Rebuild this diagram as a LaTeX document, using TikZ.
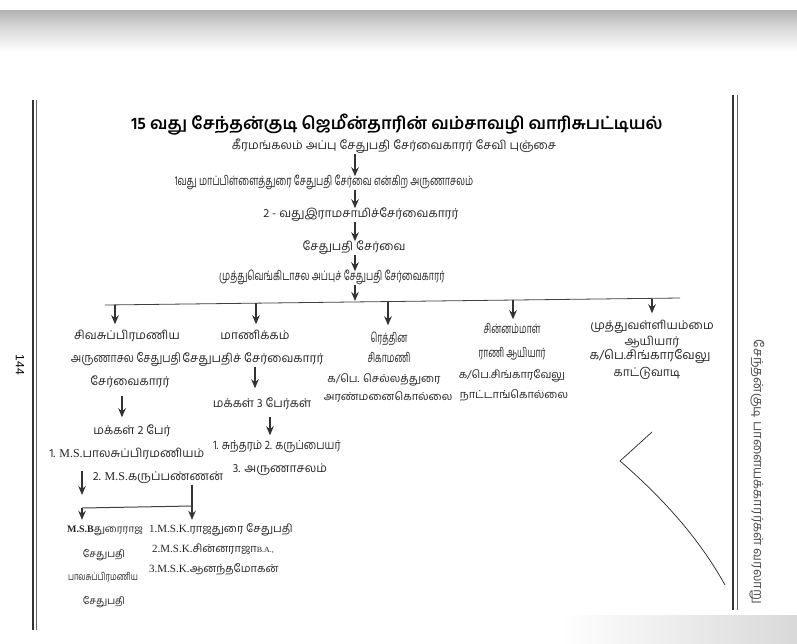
\documentclass[tikz,border=0pt]{standalone}
\usepackage{fontspec}
\newfontfamily\ta[Script=Tamil]{Hind Madurai}
\newfontfamily\tacA[Script=Tamil,FakeStretch=0.70]{Hind Madurai}
\newfontfamily\tacB[Script=Tamil,FakeStretch=0.84]{Hind Madurai}
\newfontfamily\tacC[Script=Tamil,FakeStretch=0.66]{Hind Madurai}
\newfontfamily\tacD[Script=Tamil,FakeStretch=0.72]{Hind Madurai}
\newfontfamily\ser{Liberation Serif}
\newfontfamily\sans{Liberation Sans}
\usetikzlibrary{arrows.meta}
\begin{document}
\begin{tikzpicture}[x=1pt,y=-1pt,
  tx/.style={font=\ta\fontsize{12}{14}\selectfont, inner sep=1pt, text=black!85, text height=8pt, text depth=3pt},
  txs/.style={font=\ta\fontsize{11}{13}\selectfont, inner sep=1pt, text=black!85, text height=8pt, text depth=3pt},
  txg/.style={font=\ta\fontsize{10}{12}\selectfont, inner sep=1pt, text=black!85, text height=8pt, text depth=3pt},
  ttlstyle/.style={font=\ta\bfseries\fontsize{17}{20}\selectfont, inner sep=1pt, text=black},
  arr/.style={draw=black!80, line width=1.6pt, -{Stealth[length=9pt,width=7.5pt]}},
  barline/.style={draw=black!75, line width=0.8pt}]
\useasboundingbox (0,0) rectangle (797,643);
\fill[white] (0,0) rectangle (797,643);
% scanner shadow at the top and bottom
\shade[top color=gray!60, bottom color=gray!30] (0,10) rectangle (797,28);
\shade[top color=gray!30, bottom color=white] (0,28) rectangle (797,52);
\shade[left color=white, right color=gray!30] (560,615) rectangle (797,643);
% page rules
\draw[line width=2.2pt, black!80] (33,100) -- (33,630);
\draw[line width=0.6pt, black!60] (36.5,100) -- (36.5,630);
\draw[line width=2.2pt, black!80] (733,95) -- (733,610);
\draw[line width=0.6pt, black!60] (737,95) -- (737,610);
\node[rotate=-90, font=\sans\fontsize{12}{12}\selectfont, inner sep=0pt] (pg) at (20,365) {144};
\node[rotate=-90, font=\ta\fontsize{13}{13}\selectfont, text=black!70, inner sep=0pt] (side) at (757,472) {சேந்தன்குடி பாளையக்காரர்கள் வரலாறு};
% title and main line
\node[ttlstyle] (ttl) at (397,125) {15 வது சேந்தன்குடி ஜெமீன்தாரின் வம்சாவழி வாரிசுபட்டியல்};
\node[tx] (l2) at (394,147) {கீரமங்கலம் அப்பு சேதுபதி சேர்வைகாரர் சேவி புஞ்சை};
\node[tx, font=\tacA\fontsize{13}{14}\selectfont] (l3) at (324,183) {1வது மாப்பிள்ளைத்துரை சேதுபதி சேர்வை என்கிற அருணாசலம்};
\node[tx] (l4) at (361,215) {2 - வதுஇராமசாமிச்சேர்வைகாரர்};
\node[tx] (l5) at (354,248) {சேதுபதி சேர்வை};
\node[tx, font=\tacA\fontsize{13}{14}\selectfont] (l6) at (332,278) {முத்துவெங்கிடாசல அப்புச் சேதுபதி சேர்வைகாரர்};
\coordinate (ax) at (355,0);
\draw[arr] (l2.south -| ax) -- (l3.north -| ax);
\draw[arr] (l3.south -| ax) -- (l4.north -| ax);
\draw[arr] (l4.south -| ax) -- (l5.north -| ax);
\draw[arr] (l5.south -| ax) -- (l6.north -| ax);
% bar
\coordinate (bL) at (105,305);
\coordinate (bR) at (680,298);
\coordinate (b0) at (355,301);
\draw[barline] (bL) -- (bR);
\draw[arr] (l6.south -| ax) -- (b0);
\coordinate (t1) at (115,304.5);
\coordinate (t2) at (256,303);
\coordinate (t3) at (388,301.5);
\coordinate (t4) at (513,299.5);
\coordinate (t5) at (652,298.5);
% column 1
\node[tx] (c1a) at (127,337) {சிவசுப்பிரமணிய};
\node[tx, font=\tacB\fontsize{12.5}{14}\selectfont] (c1b) at (126,360) {அருணாசல சேதுபதி};
\node[tx] (c1c) at (130,383) {சேர்வைகாரர்};
\node[tx] (c1d) at (132,432) {மக்கள் 2 பேர்};
\node[tx] (c1e) at (127,455) {1. {\ser M.S.}பாலசுப்பிரமணியம்};
\node[tx] (c1f) at (158,478) {2. {\ser M.S.}கருப்பண்ணன்};
\draw[arr] (t1) -- ([yshift=6pt]c1a.north -| t1);
\draw[arr, shorten <=6pt, shorten >=8pt] (c1c.south -| 122,0) -- (c1d.north -| 122,0);
\coordinate (k1) at (82,495);
\coordinate (k2) at (82,508);
\coordinate (k3) at (192,506);
\draw[arr, shorten <=9pt] (c1e.south -| k1) -- (k1);
% column 1 grandchildren
\node[txg] (g1a) at (105,530) {{\ser\bfseries\fontsize{10}{12}\selectfont M.S.B}துரைராஜ};
\node[txg] (g1b) at (104,555) {சேதுபதி};
\node[txg, font=\tacD\fontsize{10.5}{12}\selectfont] (g1c) at (103,578) {பாலசுப்பிரமணிய};
\node[txg] (g1d) at (104,602) {சேதுபதி};
\node[txs, anchor=west] (g2a) at (148,530) {{\ser 1.M.S.K.}ராஜதுரை சேதுபதி};
\node[txs, anchor=west] (g2b) at (151,550) {{\ser 2.M.S.K.}சின்னராஜா{\ser\fontsize{8}{10}\selectfont B.A.,}};
\node[txs, anchor=west] (g2c) at (148,570) {{\ser 3.M.S.K.}ஆனந்தமோகன்};
\draw[arr] (c1f.south -| k3) -- ([yshift=3.5pt]g2a.north -| k3);
\draw[barline, line width=1pt] (k2) -- (k3);
\draw[arr] (k2) -- ([yshift=3.5pt]g1a.north -| k2);
% column 2
\node[tx] (c2a) at (255,337) {மாணிக்கம்};
\node[tx] (c2b) at (253,360) {சேதுபதிச் சேர்வைகாரர்};
\node[tx] (c2c) at (262,405) {மக்கள் 3 பேர்கள்};
\node[tx, font=\tacB\fontsize{12.5}{14}\selectfont] (c2d) at (277,447) {1. சுந்தரம் 2. கருப்பையர்};
\node[tx] (c2e) at (280,470) {3. அருணாசலம்};
\draw[arr] (t2) -- ([yshift=6pt]c2a.north -| t2);
\draw[arr, shorten >=10pt] (c2b.south -| 255,0) -- (c2c.north -| 255,0);
\draw[arr, shorten <=5pt, shorten >=5pt] (c2c.south -| 270,0) -- (c2d.north -| 270,0);
% column 3
\node[tx, font=\tacC\fontsize{13}{14}\selectfont] (c3a) at (389,340) {ரெத்தின};
\node[tx, font=\tacC\fontsize{13}{14}\selectfont] (c3b) at (389,360) {சிகாமணி};
\node[txs] (c3c) at (384,380) {க/பெ. செல்லத்துரை};
\node[txs] (c3d) at (388,398) {அரண்மனைகொல்லை};
\draw[arr] (t3) -- ([yshift=8pt]c3a.north -| t3);
% column 4
\node[tx, font=\tacC\fontsize{13}{14}\selectfont] (c4a) at (512,331) {சின்னம்மாள்};
\node[tx, font=\tacC\fontsize{13}{14}\selectfont] (c4b) at (512,355) {ராணி ஆயியார்};
\node[txs] (c4c) at (512,376) {க/பெ.சிங்காரவேலு};
\node[txs] (c4d) at (514,396) {நாட்டாங்கொல்லை};
\draw[arr] (t4) -- ([yshift=5pt]c4a.north -| t4);
% column 5
\node[tx] (c5a) at (652,327) {முத்துவள்ளியம்மை};
\node[tx] (c5b) at (652,343) {ஆயியார்};
\node[tx, font=\ta\fontsize{12.5}{14}\selectfont] (c5c) at (650,357) {க/பெ.சிங்காரவேலு};
\node[tx] (c5d) at (647,374) {காட்டுவாடி};
\draw[arr] (t5) -- ([yshift=7pt]c5a.north -| t5);
% stray pen stroke
\draw[line width=0.7pt, black!85] (652,432) -- (620,461) .. controls (665,500) and (700,540) .. (725,585);
\end{tikzpicture}
\end{document}
